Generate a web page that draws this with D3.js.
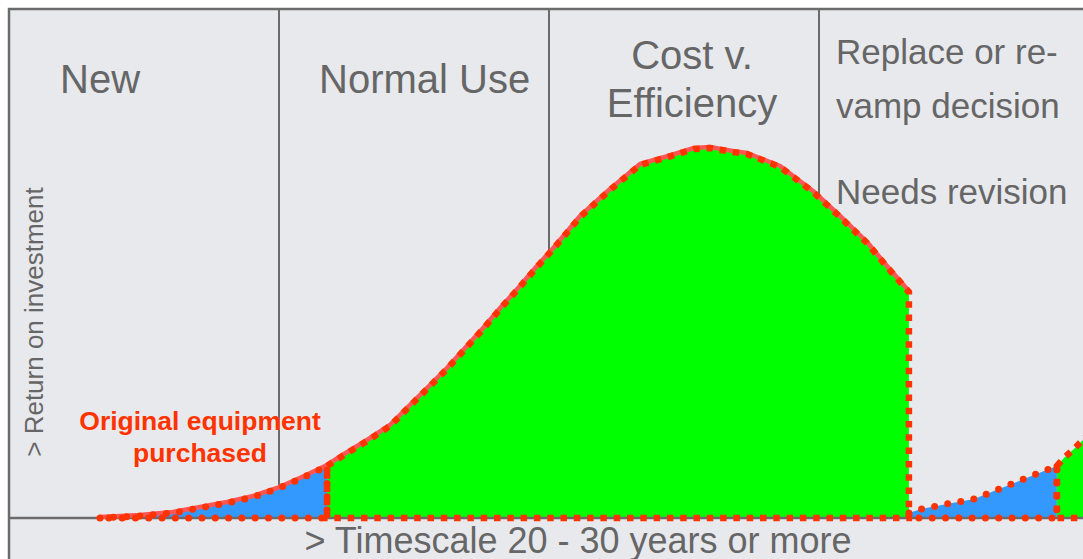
<!DOCTYPE html>
<html>
<head>
<meta charset="utf-8">
<script src="https://cdn.jsdelivr.net/npm/d3@7"></script>
<style>
  body { margin: 0; background: #fff; }
  svg { display: block; }
  text { font-family: "Liberation Sans", Arial, sans-serif; }
</style>
</head>
<body>
<svg id="chart" width="1083" height="559"></svg>
<script>
// Colonnes (phases de vie de l'equipement)
var phases = ["New", "Normal Use", "Cost v. Efficiency", "Replace or re-vamp decision"];
var phaseLines = [["New"], ["Normal Use"], ["Cost v.", "Efficiency"], ["Replace or re-", "vamp decision"]];
var phaseNote = "Needs revision";
var yearsPerPhase = 10;

// Premier cycle : temps vs retour sur investissement
var years1 = [3.37, 4.85, 6.07, 7.07, 8.07, 9.04, 9.93, 10.85, 11.78, 12.41, 13.26, 14.11, 14.81, 15.52,
  16.22, 16.89, 17.56, 18.22, 18.89, 19.52, 20.19, 21.15, 22.26, 23.37, 24.41, 25.37, 25.96, 26.81,
  27.33, 28.56, 29.78, 30.78, 31.78, 32.52, 33.33];
var roi1 = [0, 0.4, 1.0, 2.0, 3.0, 4.2, 5.8, 8.0, 10.4, 12.6, 15.4, 18.4, 22.2, 26.0,
  29.8, 33.8, 37.8, 42.0, 46.0, 50.0, 54.0, 60.2, 65.6, 70.6, 72.2, 73.8, 74.0, 73.2,
  72.8, 70.2, 65.2, 60.2, 55.0, 50.2, 45.2];
var purchase1 = 11.78;

// Deuxieme cycle (remplacement)
var years2 = [33.33, 33.78, 34.74, 35.74, 36.67, 37.59, 38.52, 38.81, 39.07, 39.44, 39.78, 40.04];
var roi2 = [1.0, 1.8, 2.8, 3.8, 5.8, 7.8, 9.8, 10.4, 12.0, 13.8, 15.6, 17.2];
var purchase2 = 38.81;

var yLabel = "> Return on investment";
var xLabel = "> Timescale 20 - 30 years or more";
var purchaseLabel = ["Original equipment", "purchased"];

var grey = "#6b6b6b", textGrey = "#666";
var blue = "#3399ff", green = "#00ff00", dotRed = "#ff3300", lineRed = "#ff5555";

var svg = d3.select("#chart");

var x = d3.scaleLinear().domain([0, yearsPerPhase * phases.length]).range([9, 1089]);
var y = d3.scaleLinear().domain([0, 100]).range([518, 18]);

// fond
svg.append("rect")
  .attr("x", x(0)).attr("y", 9)
  .attr("width", 1100).attr("height", 560)
  .attr("fill", "#e8e9ed")
  .attr("stroke", grey).attr("stroke-width", 2.5);

// separateurs de colonnes
svg.selectAll("line.divider")
  .data(d3.range(1, phases.length))
  .enter().append("line")
  .attr("class", "divider")
  .attr("x1", function(d) { return x(d * yearsPerPhase); })
  .attr("x2", function(d) { return x(d * yearsPerPhase); })
  .attr("y1", 9).attr("y2", y(0))
  .attr("stroke", grey).attr("stroke-width", 2);

// Libelles des colonnes
var labelLayout = [
  { dx: 51, y: 93, size: 40, anchor: "start", lh: 0 },
  { dx: 40, y: 93, size: 40, anchor: "start", lh: 0 },
  { dx: 143, y: 69, size: 40, anchor: "middle", lh: 48 },
  { dx: 17, y: 64, size: 35, anchor: "start", lh: 54 }
];
phaseLines.forEach(function(lines, i) {
  var l = labelLayout[i];
  lines.forEach(function(t, j) {
    svg.append("text")
      .attr("x", x(i * yearsPerPhase) + l.dx)
      .attr("y", l.y + j * l.lh)
      .attr("text-anchor", l.anchor)
      .attr("font-size", l.size)
      .attr("fill", textGrey)
      .text(t);
  });
});
svg.append("text")
  .attr("x", x(3 * yearsPerPhase) + 17)
  .attr("y", 204)
  .attr("font-size", 35)
  .attr("fill", textGrey)
  .text(phaseNote);

// zones
function pts(ys, rs) { return ys.map(function(d, i) { return { t: d, v: rs[i] }; }); }
var cycle1 = pts(years1, roi1), cycle2 = pts(years2, roi2);

var area = d3.area()
  .x(function(d) { return x(d.t); })
  .y0(y(0))
  .y1(function(d) { return y(d.v); });

var regions = [
  { data: cycle1.filter(function(d) { return d.t <= purchase1; }), fill: blue, dots: true },
  { data: cycle1.filter(function(d) { return d.t >= purchase1; }), fill: green, dots: false },
  { data: cycle2.filter(function(d) { return d.t <= purchase2; }), fill: blue, dots: true },
  { data: cycle2.filter(function(d) { return d.t >= purchase2; }), fill: green, dots: false }
];

regions.forEach(function(r) {
  svg.append("path").datum(r.data)
    .attr("d", area)
    .attr("fill", r.fill);
});

// ligne de base
svg.append("line")
  .attr("x1", x(0)).attr("x2", 1083)
  .attr("y1", y(0)).attr("y2", y(0))
  .attr("stroke", grey).attr("stroke-width", 2.5);

// courbe pleine
svg.append("path").datum(cycle1)
  .attr("d", d3.line().x(function(d) { return x(d.t); }).y(function(d) { return y(d.v) - 1; }))
  .attr("fill", "none")
  .attr("stroke", lineRed)
  .attr("stroke-width", 4.5)
  .attr("stroke-linejoin", "round");

// contours pointilles
regions.forEach(function(r) {
  svg.append("path").datum(r.data)
    .attr("d", area)
    .attr("fill", "none")
    .attr("stroke", dotRed)
    .attr("stroke-width", r.dots ? 7 : 6.5)
    .attr("stroke-linecap", r.dots ? "round" : "butt")
    .attr("stroke-dasharray", r.dots ? "0 13.3" : "6.5 6.8");
});

// textes
svg.append("text")
  .attr("transform", "translate(43,322) rotate(-90)")
  .attr("text-anchor", "middle")
  .attr("font-size", 26)
  .attr("fill", textGrey)
  .text(yLabel);

svg.append("text")
  .attr("x", 578).attr("y", 553)
  .attr("text-anchor", "middle")
  .attr("font-size", 36)
  .attr("fill", textGrey)
  .text(xLabel);

purchaseLabel.forEach(function(t, i) {
  svg.append("text")
    .attr("x", 200).attr("y", 430 + i * 32)
    .attr("text-anchor", "middle")
    .attr("font-size", 26.5)
    .attr("font-weight", "bold")
    .attr("fill", dotRed)
    .text(t);
});
</script>
</body>
</html>
